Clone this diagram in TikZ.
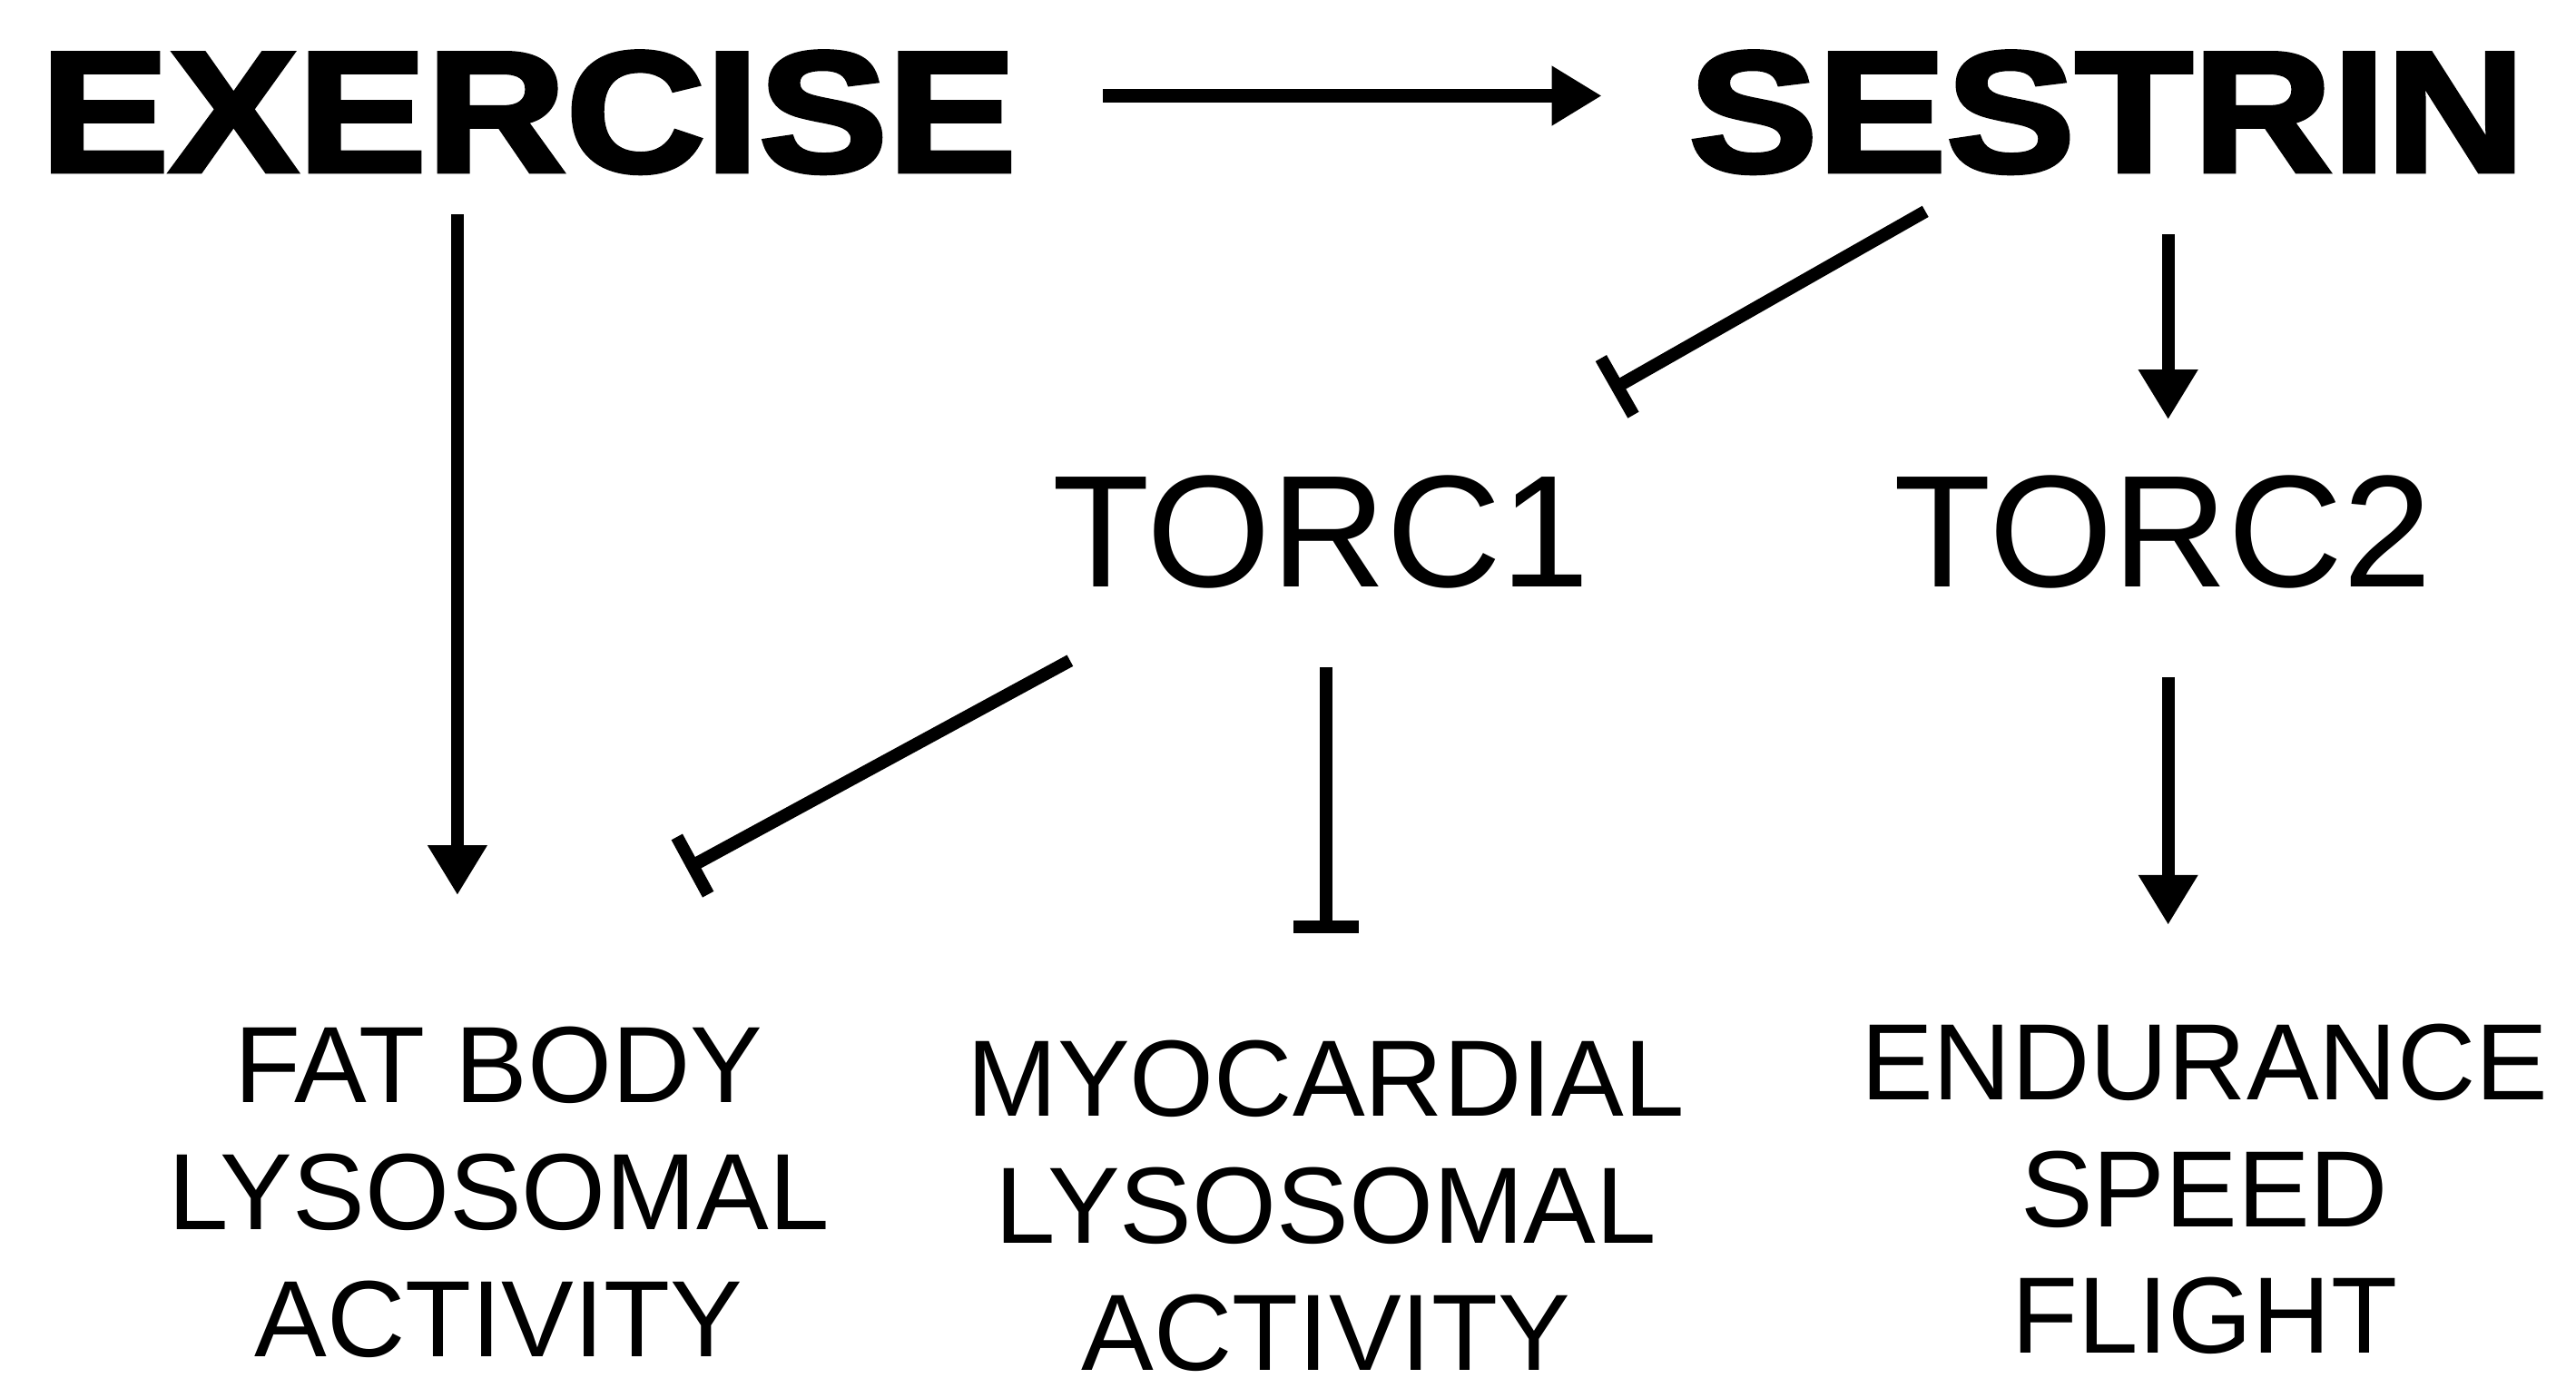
\documentclass[tikz,border=0pt]{standalone}
\usepackage{fontspec}
\setmainfont{Liberation Sans}
\newfontfamily\heavyfont[FakeBold=2.5]{Liberation Sans Bold}
\usetikzlibrary{arrows.meta}
\begin{document}
\begin{tikzpicture}[x=0.01819cm,y=-0.01819cm,
    big/.style={font=\heavyfont\fontsize{54}{60}\selectfont, inner sep=0pt, xscale=1.12, transform shape},
    mid/.style={font=\fontsize{50}{56}\selectfont, inner sep=0pt},
    result/.style={font=\fontsize{34}{39.8}\selectfont, align=center, inner sep=0pt},
    act/.style={line width=4pt, -{Triangle[length=0.55cm,width=0.62cm]}},
    inh/.style={line width=4pt, -{Bar[width=0.72cm,line width=4pt]}}]

    \useasboundingbox (0,0) rectangle (1560,846);

    % Main players
    \node[big] (exercise) at (320,68) {EXERCISE};
    \node[big] (sestrin) at (1276,68) {SESTRIN};
    \node[mid] (torc1) at (800,322) {TORC1};
    \node[mid] (torc2) at (1310,322) {TORC2};

    % Outcomes
    \node[result] (fatbody) at (302,722) {FAT BODY\\LYSOSOMAL\\ACTIVITY};
    \node[result] (myo) at (803,730) {MYOCARDIAL\\LYSOSOMAL\\ACTIVITY};
    \node[result] (endur) at (1335,720) {ENDURANCE\\SPEED\\FLIGHT};

    % Arrow ends
    \coordinate (e1) at (668,58);  \coordinate (e2) at (970,58);
    \coordinate (e3) at (277,130); \coordinate (e4) at (277,542);
    \coordinate (s1) at (1166,128); \coordinate (s2) at (976,236);
    \coordinate (s3) at (1313,142); \coordinate (s4) at (1313,254);
    \coordinate (t1) at (648,400); \coordinate (t2) at (416,526);
    \coordinate (t3) at (803,404); \coordinate (t4) at (803,565);
    \coordinate (t5) at (1313,410); \coordinate (t6) at (1313,560);

    % Connections
    \draw[act] (e1) -- (e2);
    \draw[act] (e3) -- (e4);
    \draw[inh] (s1) -- (s2);
    \draw[act] (s3) -- (s4);
    \draw[inh] (t1) -- (t2);
    \draw[inh] (t3) -- (t4);
    \draw[act] (t5) -- (t6);

\end{tikzpicture}
\end{document}
